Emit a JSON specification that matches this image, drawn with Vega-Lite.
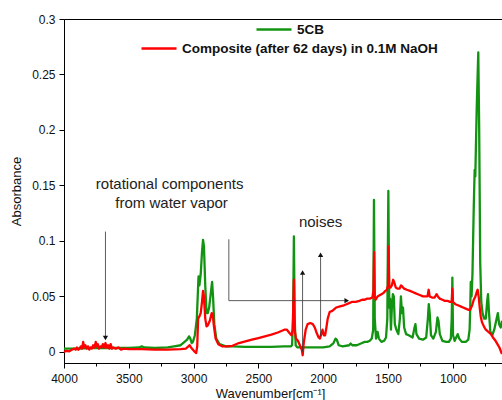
{
  "$schema": "https://vega.github.io/schema/vega-lite/v6.json",
  "width": 438,
  "height": 344,
  "autosize": {"type": "none"},
  "padding": {"left": 64, "top": 19, "right": 0, "bottom": 37},
  "background": "white",
  "config": {
    "font": "Liberation Sans",
    "view": {"stroke": "black", "strokeWidth": 1},
    "axis": {
      "grid": false,
      "domainColor": "black",
      "tickColor": "black",
      "labelFont": "Liberation Sans",
      "labelFontSize": 12,
      "labelColor": "#111",
      "labelOverlap": false,
      "labelFlush": false,
      "titleFont": "Liberation Sans",
      "titleFontSize": 13,
      "titleFontWeight": "normal",
      "titleColor": "#111"
    },
    "legend": {
      "orient": "none",
      "title": null,
      "symbolType": "stroke",
      "symbolSize": 1225,
      "symbolStrokeWidth": 2.5,
      "labelFont": "Liberation Sans",
      "labelFontWeight": "bold",
      "labelFontSize": 13.5,
      "labelColor": "#111",
      "labelOffset": 4,
      "labelLimit": 0,
      "padding": 0
    }
  },
  "datasets": {
    "spec": [
      {"s":"5CB","w":4000,"a":0.003},{"s":"5CB","w":3900,"a":0.003},{"s":"5CB","w":3800,"a":0.0035},{"s":"5CB","w":3700,"a":0.0035},{"s":"5CB","w":3600,"a":0.0035},{"s":"5CB","w":3500,"a":0.0035},{"s":"5CB","w":3420,"a":0.004},{"s":"5CB","w":3400,"a":0.005},{"s":"5CB","w":3380,"a":0.004},{"s":"5CB","w":3300,"a":0.0035},{"s":"5CB","w":3200,"a":0.004},{"s":"5CB","w":3150,"a":0.005},{"s":"5CB","w":3100,"a":0.006},{"s":"5CB","w":3070,"a":0.009},{"s":"5CB","w":3050,"a":0.011},{"s":"5CB","w":3035,"a":0.014},{"s":"5CB","w":3025,"a":0.012},{"s":"5CB","w":3015,"a":0.008},{"s":"5CB","w":3005,"a":0.009},{"s":"5CB","w":2990,"a":0.015},{"s":"5CB","w":2975,"a":0.03},{"s":"5CB","w":2962,"a":0.068},{"s":"5CB","w":2955,"a":0.06},{"s":"5CB","w":2945,"a":0.07},{"s":"5CB","w":2935,"a":0.09},{"s":"5CB","w":2927,"a":0.101},{"s":"5CB","w":2920,"a":0.095},{"s":"5CB","w":2910,"a":0.06},{"s":"5CB","w":2900,"a":0.035},{"s":"5CB","w":2890,"a":0.035},{"s":"5CB","w":2880,"a":0.04},{"s":"5CB","w":2865,"a":0.055},{"s":"5CB","w":2857,"a":0.063},{"s":"5CB","w":2850,"a":0.05},{"s":"5CB","w":2840,"a":0.025},{"s":"5CB","w":2825,"a":0.012},{"s":"5CB","w":2800,"a":0.007},{"s":"5CB","w":2750,"a":0.005},{"s":"5CB","w":2700,"a":0.005},{"s":"5CB","w":2600,"a":0.0045},{"s":"5CB","w":2500,"a":0.0045},{"s":"5CB","w":2400,"a":0.0045},{"s":"5CB","w":2300,"a":0.005},{"s":"5CB","w":2250,"a":0.005},{"s":"5CB","w":2240,"a":0.006},{"s":"5CB","w":2232,"a":0.03},{"s":"5CB","w":2226,"a":0.104},{"s":"5CB","w":2220,"a":0.03},{"s":"5CB","w":2212,"a":0.006},{"s":"5CB","w":2200,"a":0.004},{"s":"5CB","w":2100,"a":0.004},{"s":"5CB","w":2000,"a":0.004},{"s":"5CB","w":1950,"a":0.005},{"s":"5CB","w":1920,"a":0.008},{"s":"5CB","w":1905,"a":0.012},{"s":"5CB","w":1895,"a":0.011},{"s":"5CB","w":1880,"a":0.006},{"s":"5CB","w":1850,"a":0.005},{"s":"5CB","w":1800,"a":0.006},{"s":"5CB","w":1788,"a":0.0075},{"s":"5CB","w":1775,"a":0.006},{"s":"5CB","w":1740,"a":0.006},{"s":"5CB","w":1700,"a":0.008},{"s":"5CB","w":1680,"a":0.009},{"s":"5CB","w":1660,"a":0.009},{"s":"5CB","w":1640,"a":0.01},{"s":"5CB","w":1625,"a":0.012},{"s":"5CB","w":1614,"a":0.02},{"s":"5CB","w":1608,"a":0.137},{"s":"5CB","w":1602,"a":0.03},{"s":"5CB","w":1592,"a":0.012},{"s":"5CB","w":1580,"a":0.018},{"s":"5CB","w":1570,"a":0.012},{"s":"5CB","w":1550,"a":0.009},{"s":"5CB","w":1530,"a":0.01},{"s":"5CB","w":1515,"a":0.013},{"s":"5CB","w":1505,"a":0.03},{"s":"5CB","w":1497,"a":0.145},{"s":"5CB","w":1490,"a":0.04},{"s":"5CB","w":1484,"a":0.048},{"s":"5CB","w":1477,"a":0.02},{"s":"5CB","w":1470,"a":0.04},{"s":"5CB","w":1462,"a":0.052},{"s":"5CB","w":1455,"a":0.05},{"s":"5CB","w":1447,"a":0.025},{"s":"5CB","w":1435,"a":0.02},{"s":"5CB","w":1420,"a":0.016},{"s":"5CB","w":1408,"a":0.03},{"s":"5CB","w":1400,"a":0.05},{"s":"5CB","w":1392,"a":0.035},{"s":"5CB","w":1384,"a":0.04},{"s":"5CB","w":1375,"a":0.022},{"s":"5CB","w":1360,"a":0.016},{"s":"5CB","w":1340,"a":0.015},{"s":"5CB","w":1310,"a":0.013},{"s":"5CB","w":1295,"a":0.022},{"s":"5CB","w":1288,"a":0.025},{"s":"5CB","w":1280,"a":0.016},{"s":"5CB","w":1260,"a":0.012},{"s":"5CB","w":1230,"a":0.011},{"s":"5CB","w":1205,"a":0.013},{"s":"5CB","w":1192,"a":0.03},{"s":"5CB","w":1185,"a":0.043},{"s":"5CB","w":1178,"a":0.035},{"s":"5CB","w":1168,"a":0.015},{"s":"5CB","w":1150,"a":0.012},{"s":"5CB","w":1130,"a":0.018},{"s":"5CB","w":1118,"a":0.031},{"s":"5CB","w":1110,"a":0.028},{"s":"5CB","w":1100,"a":0.016},{"s":"5CB","w":1080,"a":0.01},{"s":"5CB","w":1050,"a":0.009},{"s":"5CB","w":1030,"a":0.009},{"s":"5CB","w":1015,"a":0.012},{"s":"5CB","w":1008,"a":0.03},{"s":"5CB","w":1003,"a":0.067},{"s":"5CB","w":998,"a":0.015},{"s":"5CB","w":985,"a":0.01},{"s":"5CB","w":970,"a":0.014},{"s":"5CB","w":962,"a":0.016},{"s":"5CB","w":950,"a":0.012},{"s":"5CB","w":930,"a":0.009},{"s":"5CB","w":900,"a":0.009},{"s":"5CB","w":880,"a":0.011},{"s":"5CB","w":870,"a":0.02},{"s":"5CB","w":865,"a":0.04},{"s":"5CB","w":861,"a":0.063},{"s":"5CB","w":855,"a":0.05},{"s":"5CB","w":848,"a":0.07},{"s":"5CB","w":838,"a":0.13},{"s":"5CB","w":831,"a":0.164},{"s":"5CB","w":826,"a":0.158},{"s":"5CB","w":815,"a":0.22},{"s":"5CB","w":803,"a":0.27},{"s":"5CB","w":796,"a":0.2},{"s":"5CB","w":788,"a":0.08},{"s":"5CB","w":780,"a":0.045},{"s":"5CB","w":770,"a":0.035},{"s":"5CB","w":758,"a":0.03},{"s":"5CB","w":745,"a":0.03},{"s":"5CB","w":735,"a":0.045},{"s":"5CB","w":728,"a":0.052},{"s":"5CB","w":720,"a":0.035},{"s":"5CB","w":710,"a":0.018},{"s":"5CB","w":695,"a":0.015},{"s":"5CB","w":680,"a":0.02},{"s":"5CB","w":665,"a":0.028},{"s":"5CB","w":652,"a":0.035},{"s":"5CB","w":642,"a":0.025},{"s":"5CB","w":630,"a":0.022},{"s":"5CB","w":620,"a":0.028},
      {"s":"Composite (after 62 days) in 0.1M NaOH","w":4000,"a":0.0},{"s":"Composite (after 62 days) in 0.1M NaOH","w":3980,"a":0.001},{"s":"Composite (after 62 days) in 0.1M NaOH","w":3960,"a":0.0005},{"s":"Composite (after 62 days) in 0.1M NaOH","w":3940,"a":0.002},{"s":"Composite (after 62 days) in 0.1M NaOH","w":3920,"a":0.003},{"s":"Composite (after 62 days) in 0.1M NaOH","w":3910,"a":0.002},{"s":"Composite (after 62 days) in 0.1M NaOH","w":3900,"a":0.004},{"s":"Composite (after 62 days) in 0.1M NaOH","w":3890,"a":0.002},{"s":"Composite (after 62 days) in 0.1M NaOH","w":3880,"a":0.003},{"s":"Composite (after 62 days) in 0.1M NaOH","w":3870,"a":0.005},{"s":"Composite (after 62 days) in 0.1M NaOH","w":3860,"a":0.003},{"s":"Composite (after 62 days) in 0.1M NaOH","w":3852,"a":0.009},{"s":"Composite (after 62 days) in 0.1M NaOH","w":3845,"a":0.004},{"s":"Composite (after 62 days) in 0.1M NaOH","w":3835,"a":0.006},{"s":"Composite (after 62 days) in 0.1M NaOH","w":3825,"a":0.003},{"s":"Composite (after 62 days) in 0.1M NaOH","w":3815,"a":0.005},{"s":"Composite (after 62 days) in 0.1M NaOH","w":3805,"a":0.002},{"s":"Composite (after 62 days) in 0.1M NaOH","w":3795,"a":0.004},{"s":"Composite (after 62 days) in 0.1M NaOH","w":3785,"a":0.003},{"s":"Composite (after 62 days) in 0.1M NaOH","w":3775,"a":0.006},{"s":"Composite (after 62 days) in 0.1M NaOH","w":3765,"a":0.004},{"s":"Composite (after 62 days) in 0.1M NaOH","w":3755,"a":0.009},{"s":"Composite (after 62 days) in 0.1M NaOH","w":3748,"a":0.005},{"s":"Composite (after 62 days) in 0.1M NaOH","w":3740,"a":0.007},{"s":"Composite (after 62 days) in 0.1M NaOH","w":3730,"a":0.003},{"s":"Composite (after 62 days) in 0.1M NaOH","w":3720,"a":0.005},{"s":"Composite (after 62 days) in 0.1M NaOH","w":3710,"a":0.004},{"s":"Composite (after 62 days) in 0.1M NaOH","w":3700,"a":0.007},{"s":"Composite (after 62 days) in 0.1M NaOH","w":3690,"a":0.004},{"s":"Composite (after 62 days) in 0.1M NaOH","w":3680,"a":0.008},{"s":"Composite (after 62 days) in 0.1M NaOH","w":3670,"a":0.004},{"s":"Composite (after 62 days) in 0.1M NaOH","w":3660,"a":0.006},{"s":"Composite (after 62 days) in 0.1M NaOH","w":3650,"a":0.003},{"s":"Composite (after 62 days) in 0.1M NaOH","w":3640,"a":0.007},{"s":"Composite (after 62 days) in 0.1M NaOH","w":3630,"a":0.003},{"s":"Composite (after 62 days) in 0.1M NaOH","w":3620,"a":0.004},{"s":"Composite (after 62 days) in 0.1M NaOH","w":3600,"a":0.003},{"s":"Composite (after 62 days) in 0.1M NaOH","w":3580,"a":0.004},{"s":"Composite (after 62 days) in 0.1M NaOH","w":3560,"a":0.002},{"s":"Composite (after 62 days) in 0.1M NaOH","w":3540,"a":0.003},{"s":"Composite (after 62 days) in 0.1M NaOH","w":3500,"a":0.0025},{"s":"Composite (after 62 days) in 0.1M NaOH","w":3400,"a":0.0025},{"s":"Composite (after 62 days) in 0.1M NaOH","w":3300,"a":0.002},{"s":"Composite (after 62 days) in 0.1M NaOH","w":3200,"a":0.002},{"s":"Composite (after 62 days) in 0.1M NaOH","w":3100,"a":0.0025},{"s":"Composite (after 62 days) in 0.1M NaOH","w":3060,"a":0.003},{"s":"Composite (after 62 days) in 0.1M NaOH","w":3040,"a":0.005},{"s":"Composite (after 62 days) in 0.1M NaOH","w":3030,"a":0.006},{"s":"Composite (after 62 days) in 0.1M NaOH","w":3020,"a":0.004},{"s":"Composite (after 62 days) in 0.1M NaOH","w":3005,"a":0.002},{"s":"Composite (after 62 days) in 0.1M NaOH","w":2990,"a":0.0},{"s":"Composite (after 62 days) in 0.1M NaOH","w":2980,"a":-0.001},{"s":"Composite (after 62 days) in 0.1M NaOH","w":2972,"a":0.005},{"s":"Composite (after 62 days) in 0.1M NaOH","w":2965,"a":0.03},{"s":"Composite (after 62 days) in 0.1M NaOH","w":2955,"a":0.032},{"s":"Composite (after 62 days) in 0.1M NaOH","w":2945,"a":0.035},{"s":"Composite (after 62 days) in 0.1M NaOH","w":2935,"a":0.045},{"s":"Composite (after 62 days) in 0.1M NaOH","w":2927,"a":0.055},{"s":"Composite (after 62 days) in 0.1M NaOH","w":2920,"a":0.05},{"s":"Composite (after 62 days) in 0.1M NaOH","w":2910,"a":0.03},{"s":"Composite (after 62 days) in 0.1M NaOH","w":2900,"a":0.023},{"s":"Composite (after 62 days) in 0.1M NaOH","w":2890,"a":0.024},{"s":"Composite (after 62 days) in 0.1M NaOH","w":2875,"a":0.028},{"s":"Composite (after 62 days) in 0.1M NaOH","w":2860,"a":0.035},{"s":"Composite (after 62 days) in 0.1M NaOH","w":2852,"a":0.034},{"s":"Composite (after 62 days) in 0.1M NaOH","w":2845,"a":0.025},{"s":"Composite (after 62 days) in 0.1M NaOH","w":2830,"a":0.012},{"s":"Composite (after 62 days) in 0.1M NaOH","w":2810,"a":0.007},{"s":"Composite (after 62 days) in 0.1M NaOH","w":2780,"a":0.005},{"s":"Composite (after 62 days) in 0.1M NaOH","w":2740,"a":0.005},{"s":"Composite (after 62 days) in 0.1M NaOH","w":2700,"a":0.0055},{"s":"Composite (after 62 days) in 0.1M NaOH","w":2650,"a":0.008},{"s":"Composite (after 62 days) in 0.1M NaOH","w":2600,"a":0.0095},{"s":"Composite (after 62 days) in 0.1M NaOH","w":2550,"a":0.011},{"s":"Composite (after 62 days) in 0.1M NaOH","w":2500,"a":0.0125},{"s":"Composite (after 62 days) in 0.1M NaOH","w":2450,"a":0.014},{"s":"Composite (after 62 days) in 0.1M NaOH","w":2400,"a":0.0155},{"s":"Composite (after 62 days) in 0.1M NaOH","w":2350,"a":0.0175},{"s":"Composite (after 62 days) in 0.1M NaOH","w":2300,"a":0.02},{"s":"Composite (after 62 days) in 0.1M NaOH","w":2280,"a":0.02},{"s":"Composite (after 62 days) in 0.1M NaOH","w":2260,"a":0.017},{"s":"Composite (after 62 days) in 0.1M NaOH","w":2245,"a":0.015},{"s":"Composite (after 62 days) in 0.1M NaOH","w":2235,"a":0.02},{"s":"Composite (after 62 days) in 0.1M NaOH","w":2226,"a":0.065},{"s":"Composite (after 62 days) in 0.1M NaOH","w":2220,"a":0.02},{"s":"Composite (after 62 days) in 0.1M NaOH","w":2210,"a":0.012},{"s":"Composite (after 62 days) in 0.1M NaOH","w":2195,"a":0.01},{"s":"Composite (after 62 days) in 0.1M NaOH","w":2180,"a":0.006},{"s":"Composite (after 62 days) in 0.1M NaOH","w":2165,"a":0.002},{"s":"Composite (after 62 days) in 0.1M NaOH","w":2158,"a":-0.003},{"s":"Composite (after 62 days) in 0.1M NaOH","w":2150,"a":0.008},{"s":"Composite (after 62 days) in 0.1M NaOH","w":2135,"a":0.02},{"s":"Composite (after 62 days) in 0.1M NaOH","w":2120,"a":0.025},{"s":"Composite (after 62 days) in 0.1M NaOH","w":2100,"a":0.026},{"s":"Composite (after 62 days) in 0.1M NaOH","w":2080,"a":0.025},{"s":"Composite (after 62 days) in 0.1M NaOH","w":2065,"a":0.022},{"s":"Composite (after 62 days) in 0.1M NaOH","w":2050,"a":0.017},{"s":"Composite (after 62 days) in 0.1M NaOH","w":2035,"a":0.013},{"s":"Composite (after 62 days) in 0.1M NaOH","w":2025,"a":0.012},{"s":"Composite (after 62 days) in 0.1M NaOH","w":2015,"a":0.016},{"s":"Composite (after 62 days) in 0.1M NaOH","w":2005,"a":0.02},{"s":"Composite (after 62 days) in 0.1M NaOH","w":1995,"a":0.015},{"s":"Composite (after 62 days) in 0.1M NaOH","w":1985,"a":0.015},{"s":"Composite (after 62 days) in 0.1M NaOH","w":1975,"a":0.022},{"s":"Composite (after 62 days) in 0.1M NaOH","w":1965,"a":0.03},{"s":"Composite (after 62 days) in 0.1M NaOH","w":1950,"a":0.036},{"s":"Composite (after 62 days) in 0.1M NaOH","w":1930,"a":0.037},{"s":"Composite (after 62 days) in 0.1M NaOH","w":1900,"a":0.04},{"s":"Composite (after 62 days) in 0.1M NaOH","w":1870,"a":0.041},{"s":"Composite (after 62 days) in 0.1M NaOH","w":1840,"a":0.042},{"s":"Composite (after 62 days) in 0.1M NaOH","w":1820,"a":0.043},{"s":"Composite (after 62 days) in 0.1M NaOH","w":1800,"a":0.044},{"s":"Composite (after 62 days) in 0.1M NaOH","w":1780,"a":0.045},{"s":"Composite (after 62 days) in 0.1M NaOH","w":1750,"a":0.045},{"s":"Composite (after 62 days) in 0.1M NaOH","w":1720,"a":0.046},{"s":"Composite (after 62 days) in 0.1M NaOH","w":1700,"a":0.047},{"s":"Composite (after 62 days) in 0.1M NaOH","w":1680,"a":0.047},{"s":"Composite (after 62 days) in 0.1M NaOH","w":1660,"a":0.048},{"s":"Composite (after 62 days) in 0.1M NaOH","w":1640,"a":0.048},{"s":"Composite (after 62 days) in 0.1M NaOH","w":1620,"a":0.049},{"s":"Composite (after 62 days) in 0.1M NaOH","w":1612,"a":0.055},{"s":"Composite (after 62 days) in 0.1M NaOH","w":1607,"a":0.09},{"s":"Composite (after 62 days) in 0.1M NaOH","w":1602,"a":0.05},{"s":"Composite (after 62 days) in 0.1M NaOH","w":1595,"a":0.047},{"s":"Composite (after 62 days) in 0.1M NaOH","w":1580,"a":0.05},{"s":"Composite (after 62 days) in 0.1M NaOH","w":1565,"a":0.051},{"s":"Composite (after 62 days) in 0.1M NaOH","w":1550,"a":0.052},{"s":"Composite (after 62 days) in 0.1M NaOH","w":1535,"a":0.053},{"s":"Composite (after 62 days) in 0.1M NaOH","w":1520,"a":0.055},{"s":"Composite (after 62 days) in 0.1M NaOH","w":1508,"a":0.056},{"s":"Composite (after 62 days) in 0.1M NaOH","w":1500,"a":0.06},{"s":"Composite (after 62 days) in 0.1M NaOH","w":1496,"a":0.095},{"s":"Composite (after 62 days) in 0.1M NaOH","w":1490,"a":0.058},{"s":"Composite (after 62 days) in 0.1M NaOH","w":1480,"a":0.058},{"s":"Composite (after 62 days) in 0.1M NaOH","w":1470,"a":0.06},{"s":"Composite (after 62 days) in 0.1M NaOH","w":1460,"a":0.065},{"s":"Composite (after 62 days) in 0.1M NaOH","w":1452,"a":0.063},{"s":"Composite (after 62 days) in 0.1M NaOH","w":1440,"a":0.058},{"s":"Composite (after 62 days) in 0.1M NaOH","w":1425,"a":0.057},{"s":"Composite (after 62 days) in 0.1M NaOH","w":1410,"a":0.057},{"s":"Composite (after 62 days) in 0.1M NaOH","w":1400,"a":0.06},{"s":"Composite (after 62 days) in 0.1M NaOH","w":1390,"a":0.059},{"s":"Composite (after 62 days) in 0.1M NaOH","w":1375,"a":0.057},{"s":"Composite (after 62 days) in 0.1M NaOH","w":1355,"a":0.056},{"s":"Composite (after 62 days) in 0.1M NaOH","w":1330,"a":0.055},{"s":"Composite (after 62 days) in 0.1M NaOH","w":1310,"a":0.054},{"s":"Composite (after 62 days) in 0.1M NaOH","w":1290,"a":0.053},{"s":"Composite (after 62 days) in 0.1M NaOH","w":1270,"a":0.052},{"s":"Composite (after 62 days) in 0.1M NaOH","w":1250,"a":0.051},{"s":"Composite (after 62 days) in 0.1M NaOH","w":1230,"a":0.05},{"s":"Composite (after 62 days) in 0.1M NaOH","w":1210,"a":0.05},{"s":"Composite (after 62 days) in 0.1M NaOH","w":1195,"a":0.05},{"s":"Composite (after 62 days) in 0.1M NaOH","w":1186,"a":0.056},{"s":"Composite (after 62 days) in 0.1M NaOH","w":1178,"a":0.05},{"s":"Composite (after 62 days) in 0.1M NaOH","w":1160,"a":0.049},{"s":"Composite (after 62 days) in 0.1M NaOH","w":1140,"a":0.049},{"s":"Composite (after 62 days) in 0.1M NaOH","w":1125,"a":0.052},{"s":"Composite (after 62 days) in 0.1M NaOH","w":1115,"a":0.05},{"s":"Composite (after 62 days) in 0.1M NaOH","w":1100,"a":0.048},{"s":"Composite (after 62 days) in 0.1M NaOH","w":1080,"a":0.047},{"s":"Composite (after 62 days) in 0.1M NaOH","w":1060,"a":0.046},{"s":"Composite (after 62 days) in 0.1M NaOH","w":1040,"a":0.046},{"s":"Composite (after 62 days) in 0.1M NaOH","w":1020,"a":0.045},{"s":"Composite (after 62 days) in 0.1M NaOH","w":1008,"a":0.045},{"s":"Composite (after 62 days) in 0.1M NaOH","w":1003,"a":0.057},{"s":"Composite (after 62 days) in 0.1M NaOH","w":998,"a":0.045},{"s":"Composite (after 62 days) in 0.1M NaOH","w":980,"a":0.043},{"s":"Composite (after 62 days) in 0.1M NaOH","w":960,"a":0.042},{"s":"Composite (after 62 days) in 0.1M NaOH","w":940,"a":0.041},{"s":"Composite (after 62 days) in 0.1M NaOH","w":920,"a":0.04},{"s":"Composite (after 62 days) in 0.1M NaOH","w":900,"a":0.039},{"s":"Composite (after 62 days) in 0.1M NaOH","w":880,"a":0.038},{"s":"Composite (after 62 days) in 0.1M NaOH","w":866,"a":0.038},{"s":"Composite (after 62 days) in 0.1M NaOH","w":850,"a":0.042},{"s":"Composite (after 62 days) in 0.1M NaOH","w":838,"a":0.047},{"s":"Composite (after 62 days) in 0.1M NaOH","w":825,"a":0.05},{"s":"Composite (after 62 days) in 0.1M NaOH","w":815,"a":0.054},{"s":"Composite (after 62 days) in 0.1M NaOH","w":808,"a":0.056},{"s":"Composite (after 62 days) in 0.1M NaOH","w":800,"a":0.05},{"s":"Composite (after 62 days) in 0.1M NaOH","w":792,"a":0.04},{"s":"Composite (after 62 days) in 0.1M NaOH","w":784,"a":0.032},{"s":"Composite (after 62 days) in 0.1M NaOH","w":775,"a":0.027},{"s":"Composite (after 62 days) in 0.1M NaOH","w":760,"a":0.023},{"s":"Composite (after 62 days) in 0.1M NaOH","w":745,"a":0.02},{"s":"Composite (after 62 days) in 0.1M NaOH","w":725,"a":0.018},{"s":"Composite (after 62 days) in 0.1M NaOH","w":705,"a":0.016},{"s":"Composite (after 62 days) in 0.1M NaOH","w":690,"a":0.013},{"s":"Composite (after 62 days) in 0.1M NaOH","w":670,"a":0.01},{"s":"Composite (after 62 days) in 0.1M NaOH","w":655,"a":0.007},{"s":"Composite (after 62 days) in 0.1M NaOH","w":640,"a":0.004},{"s":"Composite (after 62 days) in 0.1M NaOH","w":620,"a":-0.002}
    ],
    "notes": [
      {"w": 3185, "a": 0.1514, "t": "rotational components"},
      {"w": 3170, "a": 0.1342, "t": "from water vapor"},
      {"w": 2020, "a": 0.1174, "t": "noises"}
    ],
    "leaders": [
      {"w": 3680, "w2": 3680, "a": 0.1084, "a2": 0.012},
      {"w": 2159, "w2": 2159, "a": 0.0, "a2": 0.07},
      {"w": 2020, "w2": 2020, "a": 0.014, "a2": 0.086},
      {"w": 2728, "w2": 2728, "a": 0.1015, "a2": 0.0462},
      {"w": 2728, "w2": 1830, "a": 0.0462, "a2": 0.0462}
    ],
    "heads": [
      {"w": 3680, "a": 0.0125, "shape": "triangle-down"},
      {"w": 2159, "a": 0.0715, "shape": "triangle-up"},
      {"w": 2020, "a": 0.0875, "shape": "triangle-up"},
      {"w": 1818, "a": 0.0462, "shape": "triangle-right"}
    ]
  },
  "layer": [
    {
      "data": {"name": "spec"},
      "transform": [{"filter": "datum.s === '5CB'"}],
      "mark": {"type": "line", "strokeWidth": 2.3, "strokeJoin": "round"},
      "encoding": {
        "x": {
          "field": "w", "type": "quantitative",
          "scale": {"domain": [620, 4000], "reverse": true, "zero": false, "nice": false},
          "axis": {
            "orient": "bottom",
            "title": "Wavenumber[cm⁻¹]",
            "values": [4000, 3500, 3000, 2500, 2000, 1500, 1000],
            "format": "d",
            "tickSize": 5,
            "labelPadding": 5,
            "titlePadding": 3,
            "titleX": 206
          }
        },
        "y": {
          "field": "a", "type": "quantitative",
          "scale": {"domain": [-0.01, 0.3], "zero": false, "nice": false},
          "axis": {
            "title": "Absorbance",
            "values": [0, 0.025, 0.05, 0.075, 0.1, 0.125, 0.15, 0.175, 0.2, 0.225, 0.25, 0.275, 0.3],
            "format": "~g",
            "labelExpr": "round(datum.value * 1000) % 50 == 0 ? datum.label : ''",
            "tickSize": {"condition": {"test": "round(datum.value * 1000) % 50 == 0", "value": 5}, "value": 3},
            "labelPadding": 4,
            "titlePadding": 8
          }
        },
        "color": {
          "field": "s", "type": "nominal",
          "scale": {"domain": ["5CB"], "range": ["#129412"]},
          "legend": {"legendX": 191, "legendY": -8.5}
        }
      }
    },
    {
      "data": {"name": "spec"},
      "transform": [{"filter": "datum.s !== '5CB'"}],
      "mark": {"type": "line", "strokeWidth": 2.3, "strokeJoin": "round"},
      "encoding": {
        "x": {"field": "w", "type": "quantitative", "axis": null},
        "y": {"field": "a", "type": "quantitative"},
        "color": {
          "field": "s", "type": "nominal",
          "scale": {"domain": ["Composite (after 62 days) in 0.1M NaOH"], "range": ["#ff0000"]},
          "legend": {"legendX": 76, "legendY": 10.5}
        }
      }
    },
    {
      "data": {"name": "leaders"},
      "mark": {"type": "rule", "color": "#333", "strokeWidth": 0.8},
      "encoding": {
        "x": {
          "field": "w", "type": "quantitative",
          "axis": {
            "orient": "bottom",
            "title": null,
            "values": [3750, 3250, 2750, 2250, 1750, 1250, 750],
            "labels": false,
            "domain": false,
            "tickSize": 3
          }
        },
        "x2": {"field": "w2"},
        "y": {"field": "a", "type": "quantitative"},
        "y2": {"field": "a2"}
      }
    },
    {
      "data": {"name": "heads"},
      "mark": {"type": "point", "filled": true, "color": "#111", "opacity": 1, "size": 28},
      "encoding": {
        "x": {"field": "w", "type": "quantitative", "axis": null},
        "y": {"field": "a", "type": "quantitative"},
        "shape": {"field": "shape", "type": "nominal", "scale": null, "legend": null}
      }
    },
    {
      "data": {"name": "notes"},
      "mark": {"type": "text", "font": "Liberation Sans", "fontSize": 15, "color": "#222", "align": "center", "baseline": "middle"},
      "encoding": {
        "x": {"field": "w", "type": "quantitative", "axis": null},
        "y": {"field": "a", "type": "quantitative"},
        "text": {"field": "t"}
      }
    }
  ],
  "resolve": {"scale": {"color": "independent"}, "legend": {"color": "independent"}, "axis": {"x": "independent"}}
}
